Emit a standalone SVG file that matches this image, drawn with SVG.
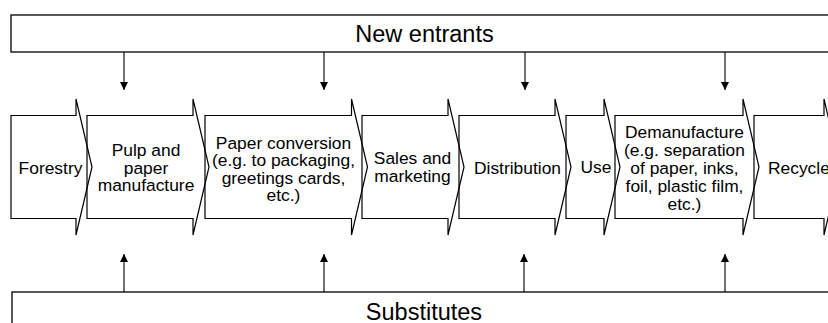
<svg xmlns="http://www.w3.org/2000/svg" width="828" height="323" viewBox="0 0 828 323">
<defs>
<style>
.box{fill:none;stroke:#000;stroke-width:1.3}
.chev{fill:none;stroke:#000;stroke-width:1.2;stroke-linejoin:miter}
.big{font-family:"Liberation Sans",Arial,sans-serif;font-size:23.5px;fill:#000;text-anchor:middle}
.lbl{font-family:"Liberation Sans",Arial,sans-serif;font-size:17.4px;fill:#000;text-anchor:middle}
.conn{stroke:#000;stroke-width:1.1;fill:none}
</style>
<marker id="ah" viewBox="0 0 8 10" refX="8" refY="5" markerWidth="8" markerHeight="10" markerUnits="userSpaceOnUse" orient="auto">
<path d="M0,1 L8,5 L0,9 Z" fill="#000"/>
</marker>
</defs>
<rect width="828" height="323" fill="#fff"/>
<g id="new-entrants">
<rect class="box" x="11" y="15" width="830" height="37"/>
<text class="big" x="424.5" y="41.5">New entrants</text>
</g>
<g id="substitutes">
<rect class="box" x="12" y="292" width="830" height="40"/>
<text class="big" x="424" y="320">Substitutes</text>
</g>
<g id="forestry">
<path class="chev" d="M11,115.5 H76 V99 L92,167 L76,235 V218.5 H11 Z"/>
<text class="lbl" x="50.5" y="174">Forestry</text>
</g>
<g id="pulp">
<path class="chev" d="M87,115.5 H193 V99 L209,167 L193,235 V218.5 H87 Z"/>
<text class="lbl" x="146" y="156">Pulp and</text>
<text class="lbl" x="146" y="173.5">paper</text>
<text class="lbl" x="146" y="191">manufacture</text>
</g>
<g id="paper-conversion">
<path class="chev" d="M205,115.5 H351.5 V99 L367.5,167 L351.5,235 V218.5 H205 Z"/>
<text class="lbl" x="283.5" y="149">Paper conversion</text>
<text class="lbl" x="283.5" y="166.3">(e.g. to packaging,</text>
<text class="lbl" x="283.5" y="183.6">greetings cards,</text>
<text class="lbl" x="283.5" y="200.9">etc.)</text>
</g>
<g id="sales">
<path class="chev" d="M362,115.5 H448 V99 L464,167 L448,235 V218.5 H362 Z"/>
<text class="lbl" x="412.5" y="164">Sales and</text>
<text class="lbl" x="412.5" y="181.5">marketing</text>
</g>
<g id="distribution">
<path class="chev" d="M459,115.5 H555 V99 L571,167 L555,235 V218.5 H459 Z"/>
<text class="lbl" x="517.5" y="173.5">Distribution</text>
</g>
<g id="use">
<path class="chev" d="M566,115.5 H604 V99 L620,167 L604,235 V218.5 H566 Z"/>
<text class="lbl" x="596" y="173">Use</text>
</g>
<g id="demanufacture">
<path class="chev" d="M615,115.5 H743 V99 L759,167 L743,235 V218.5 H615 Z"/>
<text class="lbl" x="684.5" y="138">Demanufacture</text>
<text class="lbl" x="684.5" y="156">(e.g. separation</text>
<text class="lbl" x="684.5" y="174">of paper, inks,</text>
<text class="lbl" x="684.5" y="192">foil, plastic film,</text>
<text class="lbl" x="684.5" y="210">etc.)</text>
</g>
<g id="recycle">
<path class="chev" d="M754,115.5 H824 V99 L840,167 L824,235 V218.5 H754 Z"/>
<text class="lbl" x="768" y="173.5" style="text-anchor:start">Recycle</text>
</g>
<g id="connectors">
<line class="conn" x1="124" y1="52" x2="124" y2="90" marker-end="url(#ah)"/>
<line class="conn" x1="324" y1="52" x2="324" y2="90" marker-end="url(#ah)"/>
<line class="conn" x1="525" y1="52" x2="525" y2="90" marker-end="url(#ah)"/>
<line class="conn" x1="725" y1="52" x2="725" y2="90" marker-end="url(#ah)"/>
<line class="conn" x1="124" y1="292" x2="124" y2="254" marker-end="url(#ah)"/>
<line class="conn" x1="324" y1="292" x2="324" y2="254" marker-end="url(#ah)"/>
<line class="conn" x1="524" y1="292" x2="524" y2="254" marker-end="url(#ah)"/>
<line class="conn" x1="725" y1="292" x2="725" y2="254" marker-end="url(#ah)"/>
</g>
</svg>
